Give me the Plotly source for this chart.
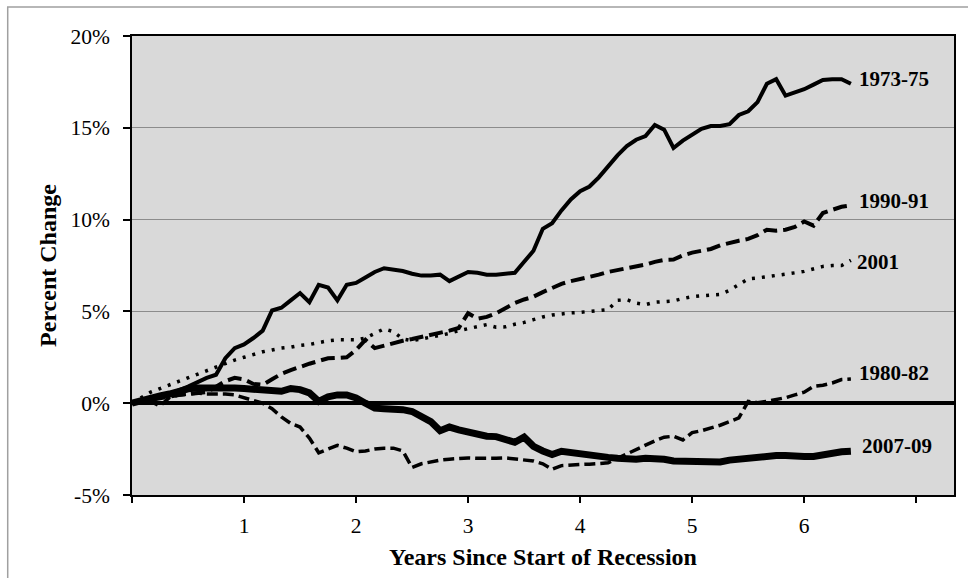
import plotly.graph_objects as go

# ---- data (percent change since start of recession, monthly) ----
months = list(range(78))
years = [m / 12 for m in months]

s1973_75 = [0.0, 0.15, 0.25, 0.35, 0.5, 0.7, 0.9, 1.15, 1.38, 1.55,
            2.45, 3.0, 3.2, 3.55, 3.95, 5.05, 5.2, 5.6, 6.0, 5.5,
            6.45, 6.3, 5.6, 6.45, 6.55, 6.85, 7.15, 7.35, 7.3, 7.2,
            7.05, 6.95, 6.95, 7.0, 6.65, 6.88, 7.15, 7.1, 7.0, 7.0,
            7.05, 7.1, 7.7, 8.3, 9.5, 9.8, 10.5, 11.1, 11.55, 11.8,
            12.3, 12.9, 13.5, 14.0, 14.35, 14.55, 15.15, 14.9, 13.9, 14.3,
            14.6, 14.95, 15.1, 15.1, 15.2, 15.7, 15.9, 16.4, 17.4, 17.65,
            16.75, 16.9, 17.1, 17.35, 17.6, 17.65, 17.65, 17.4]

s1980_82 = [0.0, 0.15, 0.1, -0.15, 0.3, 0.45, 0.5, 0.55, 0.5, 0.5,
            0.5, 0.45, 0.3, 0.15, 0.0, -0.3, -0.75, -1.1, -1.3, -1.9,
            -2.7, -2.5, -2.3, -2.45, -2.65, -2.6, -2.5, -2.45, -2.45, -2.6,
            -3.5, -3.3, -3.2, -3.1, -3.05, -3.0, -2.98, -3.0, -3.02, -3.0,
            -2.98, -3.05, -3.1, -3.15, -3.3, -3.6, -3.4, -3.35, -3.34, -3.32,
            -3.3, -3.25, -3.0, -2.75, -2.5, -2.25, -2.05, -1.85, -1.8, -2.0,
            -1.6, -1.5, -1.35, -1.2, -1.0, -0.8, 0.1, 0.03, 0.1, 0.2,
            0.3, 0.45, 0.6, 0.92, 0.98, 1.1, 1.29, 1.32]

s1990_91 = [0.0, 0.1, 0.2, 0.3, 0.4, 0.45, 0.5, 0.55, 0.6, 0.9,
            1.2, 1.38, 1.3, 1.05, 1.0, 1.3, 1.6, 1.8, 2.0, 2.15,
            2.3, 2.45, 2.47, 2.5, 2.9, 3.45, 3.0, 3.15, 3.3, 3.4,
            3.5, 3.6, 3.7, 3.85, 3.95, 4.1, 4.9, 4.6, 4.7, 4.9,
            5.2, 5.45, 5.65, 5.8, 6.05, 6.28, 6.5, 6.65, 6.75, 6.85,
            7.0, 7.15, 7.25, 7.31, 7.45, 7.55, 7.7, 7.8, 7.82, 8.05,
            8.2, 8.3, 8.4, 8.6, 8.75, 8.85, 8.95, 9.15, 9.45, 9.4,
            9.45, 9.6, 9.9, 9.67, 10.36, 10.55, 10.7, 10.78]

s2001 = [0.0, 0.3, 0.6, 0.8, 1.0, 1.2, 1.4, 1.6, 1.8, 2.0,
         2.2, 2.35, 2.5, 2.65, 2.8, 2.9, 3.0, 3.05, 3.15, 3.2,
         3.3, 3.4, 3.45, 3.45, 3.45, 3.55, 3.8, 4.05, 3.9, 3.5,
         3.4, 3.5, 3.6, 3.7, 3.8, 3.95, 4.05, 4.15, 4.28, 4.14,
         4.16, 4.3, 4.4, 4.55, 4.7, 4.8, 4.88, 4.92, 4.95, 5.0,
         5.05, 5.1, 5.6, 5.64, 5.45, 5.37, 5.5, 5.55, 5.57, 5.7,
         5.8, 5.85, 5.88, 5.92, 6.15, 6.45, 6.77, 6.82, 6.88, 6.95,
         7.0, 7.1, 7.18, 7.3, 7.45, 7.5, 7.5, 7.78]

s2007_09 = [0.0, 0.15, 0.3, 0.4, 0.5, 0.65, 0.78, 0.83, 0.85, 0.85,
            0.83, 0.83, 0.8, 0.78, 0.75, 0.7, 0.65, 0.8, 0.74, 0.56,
            0.1, 0.35, 0.45, 0.45, 0.29, 0.0, -0.27, -0.3, -0.3, -0.35,
            -0.45, -0.7, -1.0, -1.5, -1.3, -1.45, -1.58, -1.7, -1.8, -1.82,
            -1.95, -2.13, -1.85, -2.35, -2.6, -2.8, -2.62, -2.7, -2.8, -2.85,
            -2.89, -2.95, -3.0, -3.07, -3.05, -3.0, -3.0, -3.05, -3.15, -3.15,
            -3.15, -3.15, -3.16, -3.2, -3.1, -3.05, -2.95, -2.9, -2.85, -2.85,
            -2.85, -2.9, -2.9, -2.9, -2.8, -2.72, -2.65, -2.62]

series_names = ["1973-75", "1980-82", "1990-91", "2001", "2007-09"]
series_values = [s1973_75, s1980_82, s1990_91, s2001, s2007_09]

y_ticks = [-5, 0, 5, 10, 15, 20]
y_tick_labels = ["-5%", "0%", "5%", "10%", "15%", "20%"]
x_ticks = [0, 1, 2, 3, 4, 5, 6, 7]
x_tick_labels = ["", "1", "2", "3", "4", "5", "6", ""]

# ---- styles ----
FONT = "Liberation Serif"
styles = {
    "1973-75": dict(width=4, dash="solid"),
    "1980-82": dict(width=3.5, dash="11px,5px"),
    "1990-91": dict(width=4, dash="14px,6px"),
    "2001": dict(width=3.5, dash="3px,7px"),
    "2007-09": dict(width=7, dash="solid"),
}
label_shift = {
    "1973-75": (6, 5),
    "1980-82": (6, 6),
    "1990-91": (6, 4),
    "2001": (4, -2),
    "2007-09": (9, 5),
}

fig = go.Figure()
for name, vals in zip(series_names, series_values):
    st = styles[name]
    fig.add_trace(go.Scatter(
        x=years, y=vals, mode="lines", name=name,
        line=dict(color="black", width=st["width"], dash=st["dash"]),
        showlegend=False, hoverinfo="skip",
    ))
    xs, ys = label_shift[name]
    fig.add_annotation(
        x=years[len(vals) - 1], y=vals[-1], text="<b>%s</b>" % name,
        showarrow=False, xanchor="left", yanchor="middle",
        xshift=xs, yshift=ys,
        font=dict(family=FONT, size=21, color="black"),
    )

fig.update_layout(
    width=968, height=578,
    margin=dict(l=132, r=14, t=36, b=83, autoexpand=False),
    paper_bgcolor="white",
    plot_bgcolor="#D9D9D9",
    font=dict(family=FONT, size=21, color="black"),
    showlegend=False,
    shapes=[dict(
        type="rect", xref="paper", yref="paper",
        x0=-0.1512, x1=1.03, y0=-0.22, y1=1.0632,
        line=dict(color="#A0A0A0", width=1.5), fillcolor="rgba(0,0,0,0)",
        layer="below",
    )],
)

fig.update_xaxes(
    range=[0, 7.337],
    tickvals=x_ticks, ticktext=x_tick_labels,
    ticks="outside", ticklen=6, tickwidth=1.5, tickcolor="black",
    ticklabelstandoff=4,
    showline=True, linecolor="black", linewidth=1.5, mirror=True,
    showgrid=False, zeroline=False, automargin=False,
    tickfont=dict(family=FONT, size=21.5, color="black"),
    title=dict(text="<b>Years Since Start of Recession</b>",
               font=dict(family=FONT, size=24, color="black"), standoff=12),
)
fig.update_yaxes(
    range=[-5, 20],
    tickvals=y_ticks, ticktext=y_tick_labels,
    ticks="outside", ticklen=7, tickwidth=1.5, tickcolor="black",
    ticklabelstandoff=9,
    showline=True, linecolor="black", linewidth=1.5, mirror=True,
    showgrid=True, gridcolor="#8C8C8C", gridwidth=1.2,
    zeroline=True, zerolinecolor="black", zerolinewidth=4,
    automargin=False,
    tickfont=dict(family=FONT, size=21.5, color="black"),
    title=dict(text="<b>Percent Change</b>",
               font=dict(family=FONT, size=24, color="black"), standoff=7),
)

fig.write_html("out.html",
               config={"displayModeBar": False},
               post_script="document.body.style.margin='0';document.body.style.padding='0';")
